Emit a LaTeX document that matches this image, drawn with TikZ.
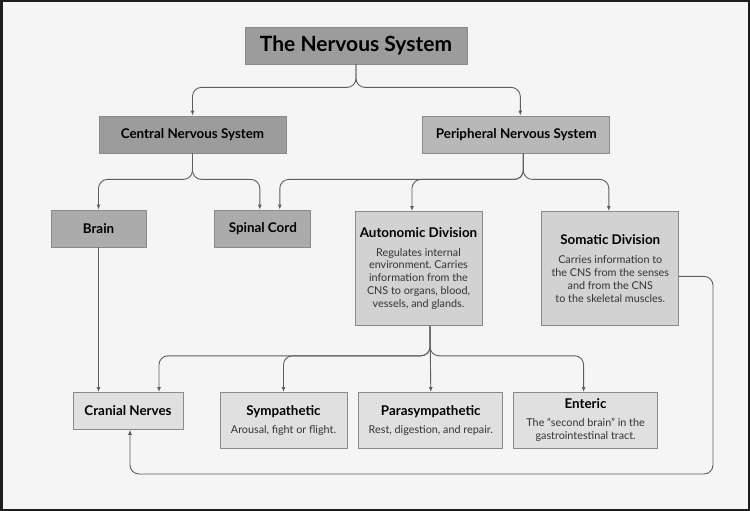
\documentclass[tikz,border=0pt]{standalone}
\usepackage{fontspec}
\setmainfont{Lato}
\usepackage{xcolor}
\usetikzlibrary{arrows.meta,positioning,calc}
\definecolor{paper}{HTML}{F5F5F5}
\definecolor{frameline}{HTML}{1E1E1E}
\definecolor{edge}{HTML}{8A8A8A}
\definecolor{wire}{HTML}{5E5E5E}
\definecolor{topfill}{HTML}{9C9C9C}
\definecolor{pnsfill}{HTML}{B8B8B8}
\definecolor{midfill}{HTML}{ABABAB}
\definecolor{divfill}{HTML}{D2D2D2}
\definecolor{lowfill}{HTML}{E0E0E0}
\newcommand{\head}[1]{{\fontsize{13.4}{15}\selectfont\bfseries\color{black}#1}}
\frenchspacing
\tikzset{
  box/.style={draw=edge, line width=0.8pt, align=center, inner sep=2pt,
              minimum height=37pt, text=black!80,
              font=\fontsize{10.8}{12.9}\selectfont},
  titlebox/.style={box, fill=topfill, minimum width=222pt, text=black,
                   font=\fontsize{21}{24}\selectfont\bfseries},
  cnsbox/.style={box, fill=topfill, minimum width=187pt},
  pnsbox/.style={box, fill=pnsfill, minimum width=187pt},
  upbox/.style={box, fill=midfill, minimum width=95pt},
  divbox/.style={box, fill=divfill, minimum width=127pt, minimum height=114pt},
  lowbox/.style={box, fill=lowfill, minimum width=144pt, minimum height=56pt},
  conn/.style={draw=wire, line width=0.9pt, rounded corners=9pt,
               -{Latex[length=5pt,width=4pt]}}
}

\begin{document}
\begin{tikzpicture}[x=1pt,y=-1pt]
  \useasboundingbox (0,0) rectangle (750,511);
  \draw[fill=paper, draw=frameline, line width=2.5pt] (1.25,1.25) rectangle (748.75,509.75);

  \node[titlebox] (nervous) at (356,45.5) {The Nervous System};
  \node[cnsbox] (cns) at (192.5,134.5) {\head{Central Nervous System}};
  \node[pnsbox, right=136pt of cns] (pns) {\head{Peripheral Nervous System}};

  \node[upbox] (brain) at (98.5,228.5) {\head{Brain}};
  \node[upbox, right=68pt of brain, minimum width=96pt] (spinal) {\head{Spinal Cord}};
  \node[divbox, anchor=north] (auto) at (418.5,211) {\head{Autonomic Division}\\[6pt]
    Regulates internal\\environment. Carries\\information from the\\CNS to organs, blood,\\vessels, and glands.};
  \node[divbox, right=59pt of auto, minimum width=137pt] (somatic) {\head{Somatic Division}\\[6pt]
    Carries information to\\the CNS from the senses\\and from the CNS\\to the skeletal muscles.};

  \node[lowbox, anchor=north, minimum width=110pt, minimum height=37pt] (cranial) at (128,392) {\head{Cranial Nerves}};
  \node[lowbox, anchor=north, minimum width=127pt] (symp) at (283.5,392) {\head{Sympathetic}\\[5pt]Arousal, fight or flight.};
  \node[lowbox, right=11pt of symp] (para) {\head{Parasympathetic}\\[5pt]Rest, digestion, and repair.};
  \node[lowbox, right=10pt of para] (enteric) {\head{Enteric}\\[5pt]The ``second brain'' in the\\gastrointestinal tract.};

  \coordinate (loop) at (713,474);

  \draw[conn] (nervous.south) -- ++(0,23) -| (cns.north);
  \draw[conn] (nervous.south) -- ++(0,23) -| ($(pns.north)+(4,0)$);
  \draw[conn] (cns.south) -- ++(0,26) -| (brain.north);
  \draw[conn] (cns.south) -- ++(0,26) -| ($(spinal.north)+(-3,0)$);
  \draw[conn] ($(pns.south)+(7,0)$) -- ++(0,26) -| ($(spinal.north)+(17,0)$);
  \draw[conn] ($(pns.south)+(7,0)$) -- ++(0,26) -| ($(auto.north)+(-6.5,0)$);
  \draw[conn] ($(pns.south)+(7,0)$) -- ++(0,26) -| ($(somatic.north)+(-1.5,0)$);
  \draw[conn] (brain.south) -- (brain.south |- cranial.north);
  \draw[conn] ($(auto.south)+(11.5,0)$) -- ++(0,30) -| ($(cranial.north)+(31,0)$);
  \draw[conn] ($(auto.south)+(11.5,0)$) -- ++(0,30) -| (symp.north);
  \draw[conn] ($(auto.south)+(11.5,0)$) -- (para.north);
  \draw[conn] ($(auto.south)+(11.5,0)$) -- ++(0,30) -| ($(enteric.north)+(-2,0)$);
  \draw[conn] ($(somatic.east)+(0,8)$) -| (loop) -| ($(cranial.south)+(2,0)$);
\end{tikzpicture}
\end{document}
